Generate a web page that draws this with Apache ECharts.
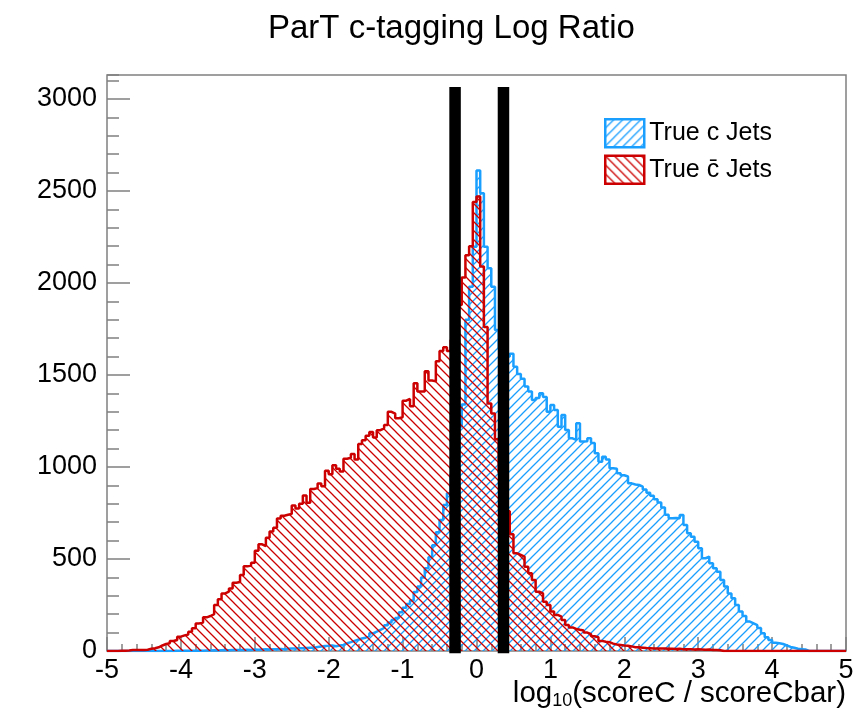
<!DOCTYPE html>
<html><head><meta charset="utf-8">
<script src="https://cdn.jsdelivr.net/npm/echarts@6/dist/echarts.min.js"></script>
<style>html,body{margin:0;padding:0;background:#fff}#chart{width:866px;height:711px}</style>
</head><body><div id="chart"></div>
<script>
// ---- data ----
const chartTitle = 'ParT c-tagging Log Ratio';
const xAxisTitle = 'log{sub|10}(scoreC / scoreCbar)';
const seriesNames = ['True c Jets', 'True c\u0304 Jets'];
const xMin = -5, xMax = 5, nBins = 200;
const xTickLabels = ['-5','-4','-3','-2','-1','0','1','2','3','4','5'];
const yTickLabels = ['0','500','1000','1500','2000','2500','3000'];
const yMax = 3130;
// True c jets (blue), 200 bins of width 0.05
const cJets = [
 0,0,0,0,0,0,0,0,0,0,
 0,0,0,0,0,0,0,0,1,1,
 2,1,2,2,3,2,3,3,4,3,
 4,5,4,5,5,6,6,7,6,8,
 7,8,9,8,10,9,11,10,12,13,
 14,15,15,16,17,18,22,25,27,28,
 30,26,30,33,42,48,55,62,68,72,
 82,96,105,115,125,140,155,168,180,210,
 235,255,275,320,350,400,450,510,575,645,
 712,793,857,960,1090,1220,1340,1800,1980,2197,
 2611,2488,2197,2080,1980,1745,1640,1620,1600,1615,
 1545,1505,1480,1437,1410,1364,1375,1400,1380,1300,
 1337,1310,1219,1283,1201,1156,1147,1237,1138,1140,
 1156,1130,1074,1029,1056,1040,993,990,966,955,
 948,911,905,902,893,878,860,843,825,807,
 780,740,721,723,721,739,685,640,621,594,
 558,504,513,477,450,431,386,350,313,286,
 250,214,190,160,150,140,125,96,75,60,
 45,42,38,30,22,18,12,10,8,0,
 0,0,0,0,0,0,0,0,0,0
];
// True cbar jets (red)
const cbarJets = [
 0,0,0,1,2,3,5,5,6,5,
 7,12,15,20,30,38,42,54,60,78,
 85,90,105,123,150,155,183,190,200,250,
 281,313,323,340,371,375,413,460,465,480,
 545,580,570,615,650,670,720,735,740,745,
 790,775,800,845,805,880,885,910,895,980,
 960,1010,990,975,1045,1050,1070,1040,1125,1145,
 1170,1190,1160,1200,1210,1228,1300,1290,1265,1270,
 1360,1370,1330,1455,1410,1410,1520,1470,1465,1575,
 1630,1650,1630,1690,1760,1880,2030,2150,2200,2440,
 2470,2090,1760,1345,1290,1150,970,850,760,635,
 531,522,513,458,422,386,322,313,268,250,
 214,196,187,168,141,128,120,115,112,100,
 92,80,75,55,50,48,40,35,33,30,
 28,25,20,20,18,16,15,14,14,13,
 14,12,12,11,12,10,9,10,8,9,
 8,7,8,6,5,4,0,0,0,0,
 0,0,0,0,0,0,0,0,0,0,
 0,0,0,0,0,0,0,0,0,0,
 0,0,0,0,0,0,0,0,0,0
];
const cutPositions = [-0.29, 0.365];
const cutRange = [-12, 3065];

// ---- styling ----
const FONT = '"Liberation Sans", Arial, Helvetica, sans-serif';
const BLUE = '#1a9fff', RED = '#cc0000', FRAME = '#808080';

function hatch(color, dir) {
  const s = 9;
  const c = document.createElement('canvas');
  c.width = s; c.height = s;
  const ctx = c.getContext('2d');
  ctx.strokeStyle = color; ctx.lineWidth = 1.3;
  ctx.beginPath();
  if (dir === '/') {
    ctx.moveTo(-1, s + 1); ctx.lineTo(s + 1, -1);
    ctx.moveTo(-2, 2); ctx.lineTo(2, -2);
    ctx.moveTo(s - 2, s + 2); ctx.lineTo(s + 2, s - 2);
  } else {
    ctx.moveTo(-1, -1); ctx.lineTo(s + 1, s + 1);
    ctx.moveTo(s - 2, -2); ctx.lineTo(s + 2, 2);
    ctx.moveTo(-2, s - 2); ctx.lineTo(2, s + 2);
  }
  ctx.stroke();
  return { image: c, repeat: 'repeat' };
}
const blueHatch = hatch(BLUE, '/');
const redHatch = hatch(RED, '\\');

const binW = (xMax - xMin) / nBins;
function stepData(vals) {
  const d = vals.map((v, i) => [xMin + i * binW, v]);
  d.push([xMax, vals[vals.length - 1]]);
  return d;
}

const chart = echarts.init(document.getElementById('chart'), null, { renderer: 'canvas' });
const grid = { left: 107, top: 75, width: 739, height: 576, show: true, borderColor: FRAME, borderWidth: 1.5, backgroundColor: 'transparent' };

const option = {
  animation: false,
  backgroundColor: '#fff',
  textStyle: { fontFamily: FONT },
  title: [
    { text: chartTitle, left: 263, top: 7,
      textStyle: { fontSize: 33, fontWeight: 'normal', color: '#000', fontFamily: FONT } },
    { text: xAxisTitle, right: 15, top: 673,
      textStyle: { fontSize: 29.5, fontWeight: 'normal', color: '#000', fontFamily: FONT, lineHeight: 32,
        rich: { sub: { fontSize: 18, fontFamily: FONT, color: '#000', verticalAlign: 'bottom', lineHeight: 17 } } } }
  ],
  legend: {
    left: 604, top: 118, orient: 'vertical', itemWidth: 39, itemHeight: 28, itemGap: 6, padding: 0,
    selectedMode: false,
    textStyle: { fontSize: 25, color: '#000', fontFamily: FONT },
    data: [
      { name: seriesNames[0], icon: 'rect', itemStyle: { color: blueHatch, borderColor: BLUE, borderWidth: 2.5 } },
      { name: seriesNames[1], icon: 'rect', itemStyle: { color: redHatch, borderColor: RED, borderWidth: 2.5 } }
    ]
  },
  grid: grid,
  xAxis: [
    { type: 'value', min: xMin, max: xMax, interval: 1,
      axisLine: { show: false, onZero: false },
      axisTick: { show: true, inside: true, length: 14, lineStyle: { color: FRAME, width: 1.5 } },
      axisLabel: { fontSize: 27, color: '#000', margin: 6, fontFamily: FONT,
        formatter: v => xTickLabels[Math.round(v - xMin)] },
      splitLine: { show: false } },
    { type: 'value', min: xMin, max: xMax, interval: 0.2, position: 'bottom',
      axisLine: { show: false, onZero: false },
      axisTick: { show: true, inside: true, length: 7, lineStyle: { color: FRAME, width: 1.5 } },
      axisLabel: { show: false }, splitLine: { show: false } }
  ],
  yAxis: [
    { type: 'value', min: 0, max: yMax, interval: 500,
      axisLine: { show: false, onZero: false },
      axisTick: { show: true, inside: true, length: 23, lineStyle: { color: FRAME, width: 1.5 } },
      axisLabel: { fontSize: 27, color: '#000', margin: 10, fontFamily: FONT, showMaxLabel: false,
        formatter: v => (v % 500 === 0 ? yTickLabels[v / 500] : '') },
      splitLine: { show: false } },
    { type: 'value', min: 0, max: yMax, interval: 100, position: 'left',
      axisLine: { show: false, onZero: false },
      axisTick: { show: true, inside: true, length: 12, lineStyle: { color: FRAME, width: 1.5 } },
      axisLabel: { show: false }, splitLine: { show: false } }
  ],
  series: [
    { name: seriesNames[0], type: 'line', step: 'end', symbol: 'none', data: stepData(cJets),
      lineStyle: { color: BLUE, width: 2.5 }, itemStyle: { color: BLUE },
      areaStyle: { color: blueHatch, origin: 'start', opacity: 1 }, z: 2 },
    { name: seriesNames[1], type: 'line', step: 'end', symbol: 'none', data: stepData(cbarJets),
      lineStyle: { color: RED, width: 2.5 }, itemStyle: { color: RED },
      areaStyle: { color: redHatch, origin: 'start', opacity: 1 }, z: 3 },
    ...cutPositions.map((p, k) => ({
      name: 'cut' + k, type: 'line', symbol: 'none', clip: false, silent: true,
      data: [[p, cutRange[0]], [p, cutRange[1]]],
      lineStyle: { color: '#000', width: 11.5, cap: 'butt' }, z: 5
    }))
  ]
};
chart.setOption(option);
</script>
</body></html>
